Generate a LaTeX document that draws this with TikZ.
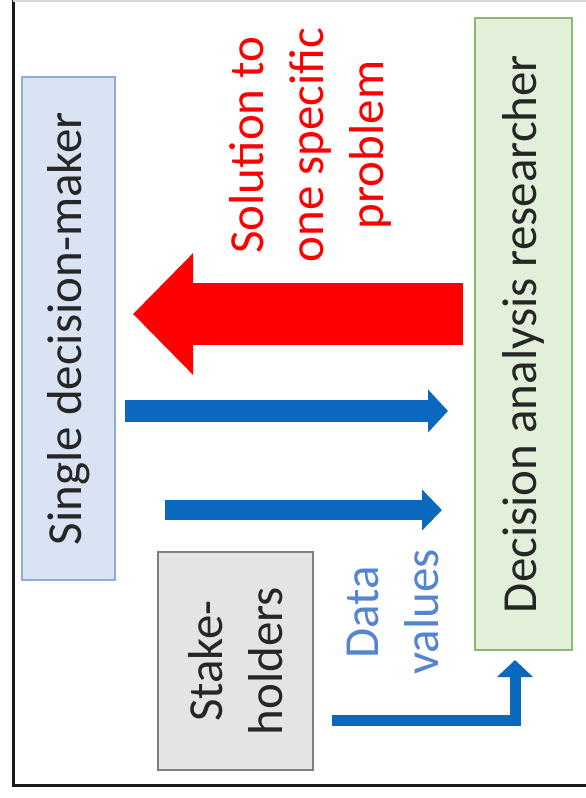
\documentclass[tikz,border=0pt]{standalone}
\usepackage{fontspec}
\setmainfont{Carlito}
\usetikzlibrary{arrows.meta}

\definecolor{makerfill}{HTML}{DAE3F3}
\definecolor{makerline}{HTML}{8FAADC}
\definecolor{resfill}{HTML}{E2F0D9}
\definecolor{resline}{HTML}{8DB870}
\definecolor{stakefill}{HTML}{E4E4E4}
\definecolor{stakeline}{HTML}{7F7F7F}
\definecolor{flowblue}{HTML}{0A68BE}
\definecolor{datablue}{HTML}{5585D0}
\definecolor{textgray}{HTML}{262626}
\definecolor{solred}{HTML}{FF0000}

\tikzset{
  box/.style={draw,line width=1pt,rotate=90,align=center,inner sep=0pt,text=textgray},
  label/.style={rotate=90,align=center,inner sep=0pt},
  flow/.style={draw=flowblue,line width=#1},
  bigflow/.style={draw=solred,line width=31pt,-{Triangle[length=30pt,width=59pt]}}
}

\begin{document}
\begin{tikzpicture}[x=0.5pt,y=-0.5pt,font=\fontsize{24.5}{30}\selectfont]
          \useasboundingbox (0,0) rectangle (585,798);
          % frame
          \draw[black!90,line width=1.5pt] (13,0) -- (13,785) -- (600,785);
          \draw[black!15,line width=1pt] (13,1) -- (600,1);
          % boxes
          \node[box,fill=makerfill,draw=makerline,minimum width=251.5pt,minimum height=46.5pt] (maker) at (68.5,328.5) {Single decision-maker};
          \node[box,fill=resfill,draw=resline,minimum width=316pt,minimum height=48.5pt] (res) at (523.5,334) {Decision analysis researcher};
          \node[box,fill=stakefill,draw=stakeline,minimum width=109pt,minimum height=77.5pt] (stake) at (235.5,661) {Stake-\\holders};
          % labels
          \node[label,text=solred] (sol) at (310,145) {Solution to\\one specific\\problem};
          \node[label,text=datablue] (data) at (393,612) {Data\\values};
          % arrows
          \coordinate (solfrom) at (463,314);
          \coordinate (solto) at (133,314);
          \coordinate (askfrom) at (125,411);
          \coordinate (askto) at (448,411);
          \coordinate (infofrom) at (165,510);
          \coordinate (infoto) at (442,510);
          \coordinate (valfrom) at (332,720);
          \coordinate (valto) at (515,660);
          \draw[bigflow] (solfrom) -- (solto);
          \draw[flow=11pt,-{Triangle[length=10pt,width=21pt]}] (askfrom) -- (askto);
          \draw[flow=10pt,-{Triangle[length=10pt,width=20pt]}] (infofrom) -- (infoto);
          \draw[flow=5.5pt,-{Triangle[length=8.5pt,width=17.5pt]}] (valfrom) -| (valto);
        \end{tikzpicture}
\end{document}
